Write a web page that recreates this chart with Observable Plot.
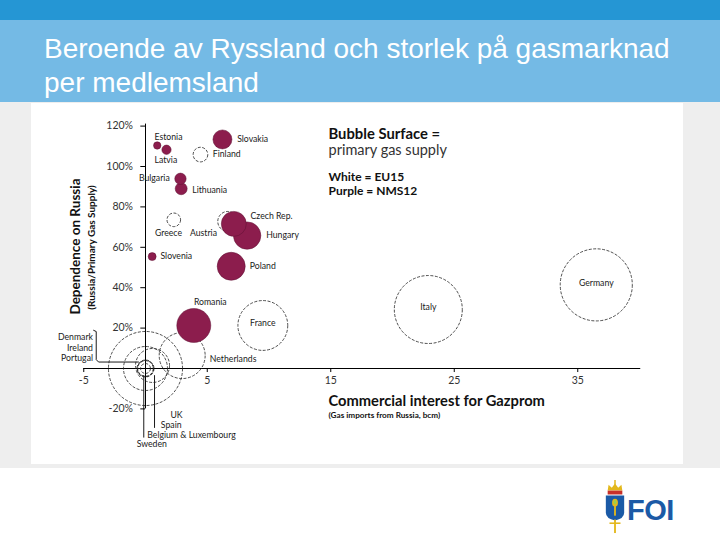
<!DOCTYPE html>
<html>
<head>
<meta charset="utf-8">
<script src="https://cdn.jsdelivr.net/npm/d3@7"></script>
<script src="https://cdn.jsdelivr.net/npm/@observablehq/plot@0.6"></script>
<style>
  html, body { margin: 0; padding: 0; }
  body { width: 720px; height: 540px; position: relative; background: #fff; overflow: hidden; font-family: "Liberation Sans", Arial, sans-serif; }
  #topbar { position: absolute; left: 0; top: 0; width: 720px; height: 20px; background: #2596d4; }
  #band { position: absolute; left: 0; top: 20px; width: 720px; height: 82px; background: #74bae5; }
  #title { position: absolute; left: 44px; top: 32px; margin: 0; font-size: 28px; font-weight: normal; line-height: 34px; color: #fff; font-family: "Liberation Sans", Arial, sans-serif; }
  #panel { position: absolute; left: 0; top: 102px; width: 720px; height: 366px; background: #eeeeee; }
  #chart { position: absolute; left: 31px; top: 103px; width: 652px; height: 361px; background: #fff; }
  #logo { position: absolute; left: 604px; top: 480px; width: 22px; height: 54px; }
  #foi { position: absolute; left: 627px; top: 494px; font: bold 29px "Liberation Sans", Arial, sans-serif; color: #1b5aa6; letter-spacing: -0.5px; }
</style>
</head>
<body>
<div id="topbar"></div>
<div id="band"></div>
<h1 id="title">Beroende av Ryssland och storlek på gasmarknad<br>per medlemsland</h1>
<div id="panel"></div>
<div id="chart"></div>
<svg id="logo" viewBox="0 0 24 56" preserveAspectRatio="none">
  <rect x="11.2" y="0" width="1.6" height="5" fill="#e3b81c"/>
  <path d="M4 11 L5 5 L8.5 8 L12 3.5 L15.5 8 L19 5 L20 11 Z" fill="#e3b81c"/>
  <rect x="4" y="11" width="16" height="4" fill="#c8302a"/>
  <path d="M2 16 H22 V34 Q22 40 12 42 Q2 40 2 34 Z" fill="#1b5aa6"/>
  <ellipse cx="12" cy="23.5" rx="3.2" ry="4" fill="#e3b81c"/>
  <ellipse cx="12" cy="23" rx="1.5" ry="2.2" fill="#9bd14b"/>
  <rect x="11" y="27" width="2" height="10" fill="#e3b81c"/>
  <rect x="11" y="41" width="2" height="14" fill="#e3b81c"/>
  <rect x="6" y="44" width="12" height="1.6" fill="#e3b81c"/>
</svg>
<div id="foi">FOI</div>
<script>
// ---- data ----
const countries = ["Estonia","Latvia","Slovakia","Bulgaria","Lithuania","Czech Rep.","Hungary","Slovenia","Poland","Romania",
                   "Finland","Greece","Austria","France","Netherlands","Italy","Germany","UK","Spain","Belgium & Luxembourg","Denmark","Ireland","Portugal","Sweden"];
const group = ["NMS12","NMS12","NMS12","NMS12","NMS12","NMS12","NMS12","NMS12","NMS12","NMS12",
               "EU15","EU15","EU15","EU15","EU15","EU15","EU15","EU15","EU15","EU15","EU15","EU15","EU15","EU15"];
// Gas imports from Russia (bcm)
const imports = [0.95,1.7,6.23,2.83,2.89,7.15,8.23,0.54,6.94,3.91,
                 4.45,2.29,6.66,9.5,2.97,22.9,36.5,0,0,0.57,0,0,0,0];
// Dependence on Russia (% of primary gas supply)
const dependence = [110.4,108.3,113.4,93.9,89,71.6,65.8,55.4,50.6,21.3,
                    105.9,73.6,72.8,21.3,6.4,29.2,41.4,0,0,1.5,0,0,0,0];
// Primary gas supply (bcm) -> bubble surface
const supply = [0.95,1.5,6.25,2.25,2.5,10.8,13,1.1,13.6,20,
                3.7,3.2,6.9,43,36.6,80,90,95,33.5,20,5,4.5,4.2,1.7];

const yTicks = [-20,0,20,40,60,80,100,120];
const yTickLabels = ["-20%","","20%","40%","60%","80%","100%","120%"];
const xTicks = [-5,5,15,25,35];
const xTickLabels = ["-5","5","15","25","35"];

// label placement (pixel offsets from each bubble centre)
const labelDx = [-2.7,-12,14.7,-10.7,11,16.7,19,8.3,18.6,16.5, 12.3,-5.3,-24.3,0,27.6,0,0,31,25.7,-5.3,-52.5,-52.5,-52.5,6.3];
const labelDy = [-8.3,10.7,0,-1,1.7,-8,0,0,0,-23.3, 0,13,11.3,-2,4,-2,-2,46.3,56.3,69.3,-31.3,-20.7,-10.3,75.7];
const labelAnchor = ["start","start","start","end","start","start","start","start","start","middle",
                     "start","middle","middle","middle","start","middle","middle","middle","middle","start","end","end","end","middle"];

// leader lines (annotation, data units)
const leaders = [
  [[-4.2,18.9],[-3.99,18.3],[-3.99,4.4],[-3.8,3.2],[-0.57,3.2]],
  [[-0.14,-3.5],[-0.14,-34]],
  [[0.73,-3.5],[0.73,-29.2]]
];

const rows = countries.map((c,i) => ({country:c, group:group[i], imports:imports[i], dependence:dependence[i], supply:supply[i], i}));
const eu15 = rows.filter(d => d.group === "EU15");
const nms12 = rows.filter(d => d.group === "NMS12");

const labelFont = 8.7;
const labelMarks = rows.map(d => Plot.text([d], {
  x: "imports", y: "dependence", text: "country",
  dx: labelDx[d.i], dy: labelDy[d.i], textAnchor: labelAnchor[d.i],
  lineAnchor: "middle", fontSize: labelFont, fill: "#1a1a1a"
}));

const frameText = (txt, dx, dy, opts = {}) => Plot.text([txt], Object.assign({
  text: d => d, frameAnchor: "top-left", dx, dy, textAnchor: "start", lineAnchor: "middle", fill: "#111"
}, opts));

const chart = Plot.plot({
  width: 652, height: 361,
  marginTop: 0, marginRight: 0, marginBottom: 0, marginLeft: 0,
  style: {background: "transparent", fontFamily: "Lato, 'Noto Sans', sans-serif", overflow: "visible"},
  x: {domain: [-5, 35], range: [52.25, 546.25], axis: null},
  y: {domain: [-20, 120], range: [305.4, 22.6], axis: null},
  r: {type: "sqrt", domain: [0, 100], range: [0, 38]},
  marks: [
    // axes
    Plot.ruleX([0], {y1: -20, y2: 121, stroke: "#000", strokeWidth: 1}),
    Plot.ruleY([0], {x1: -5, x2: 40.1, stroke: "#000", strokeWidth: 1}),
    Plot.ruleY(yTicks, {x1: -0.38, x2: 0, stroke: "#000", strokeWidth: 1}),
    Plot.ruleX(xTicks, {y1: 0, y2: -2, stroke: "#000", strokeWidth: 1}),
    Plot.text(yTicks, {x: 0, y: d => d, text: (d, i) => yTickLabels[i], dx: -12.5, textAnchor: "end", lineAnchor: "middle", fontSize: 10.5, fill: "#333"}),
    Plot.text(xTicks, {x: d => d, y: 0, text: (d, i) => xTickLabels[i], dy: 12.5, lineAnchor: "middle", fontSize: 10.5, fill: "#333"}),
    // leader lines
    ...leaders.map(pts => Plot.line(pts, {x: d => d[0], y: d => d[1], stroke: "#000", strokeWidth: 0.9})),
    // bubbles
    Plot.dot(eu15, {x: "imports", y: "dependence", r: "supply", fill: "none", stroke: "#222", strokeWidth: 0.8, strokeDasharray: "3,1.5"}),
    Plot.dot(nms12, {x: "imports", y: "dependence", r: "supply", fill: "#8c1d4d", stroke: "#5e1133", strokeWidth: 0.5}),
    ...labelMarks,
    // legend & axis titles
    frameText("Bubble Surface =", 297, 31, {fontWeight: "bold", fontSize: 14.8}),
    frameText("primary gas supply", 297, 47, {fontSize: 14.5, fill: "#333"}),
    frameText("White = EU15", 297, 73.7, {fontWeight: "bold", fontSize: 12}),
    frameText("Purple = NMS12", 297, 87.7, {fontWeight: "bold", fontSize: 12}),
    frameText("Commercial interest for Gazprom", 297, 297.7, {fontWeight: "bold", fontSize: 14.7}),
    frameText("(Gas imports from Russia, bcm)", 297, 312, {fontWeight: "bold", fontSize: 8.2}),
    frameText("Dependence on Russia", 44, 143, {fontWeight: "bold", fontSize: 13.5, textAnchor: "middle", rotate: -90}),
    frameText("(Russia/Primary Gas Supply)", 60.7, 144, {fontWeight: "bold", fontSize: 10, textAnchor: "middle", rotate: -90})
  ]
});
document.getElementById("chart").appendChild(chart);
</script>
</body>
</html>
